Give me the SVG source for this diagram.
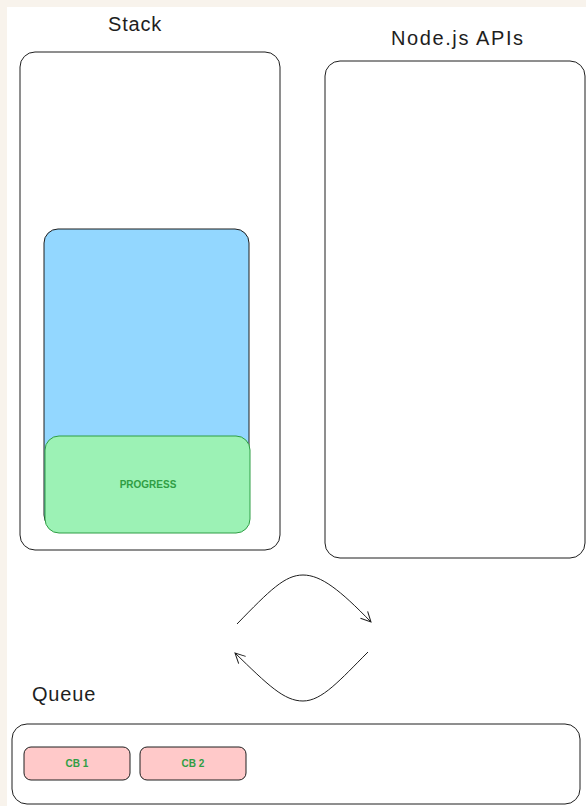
<svg xmlns="http://www.w3.org/2000/svg" width="586" height="806" viewBox="0 0 586 806">
<defs>
<style>
.box{fill:#ffffff;stroke:#1e1e1e;stroke-width:1}
.title{font-family:"Liberation Sans",Arial,sans-serif;font-size:20px;fill:#1e1e1e;letter-spacing:0.8px}
.lbl{font-family:"Liberation Sans",Arial,sans-serif;font-size:10px;fill:#2f9e44;text-anchor:middle;font-weight:bold}
.cb{fill:#ffc9c9;stroke:#1e1e1e;stroke-width:1}
.conn{fill:none;stroke:#1e1e1e;stroke-width:1}
</style>
<marker id="ah" viewBox="0 0 12 12" refX="11" refY="6" markerWidth="12" markerHeight="12" markerUnits="userSpaceOnUse" orient="auto">
<path d="M1,1 L11,6 L1,11" fill="none" stroke="#1e1e1e" stroke-width="1"/>
</marker>
</defs>
<rect x="0" y="0" width="586" height="806" fill="#f8f3ec"/>
<rect x="7" y="7" width="579" height="799" fill="#ffffff"/>
<g id="stack-title"><text class="title" x="108" y="31">Stack</text></g>
<g id="apis-title"><text class="title" x="391" y="45" style="letter-spacing:1.6px">Node.js APIs</text></g>
<g id="stack"><rect class="box" x="20" y="52" width="260" height="498" rx="15"/></g>
<g id="apis"><rect class="box" x="325" y="61" width="260" height="497" rx="15"/></g>
<g id="frame"><rect x="44" y="229" width="205" height="300" rx="14" fill="#93d7ff" stroke="#1e1e1e" stroke-width="1"/></g>
<g id="progress"><rect x="45" y="436" width="205" height="97" rx="14" fill="#9cf2b5" stroke="#2f9e44" stroke-width="1"/><text class="lbl" x="148" y="488">PROGRESS</text></g>
<g id="queue-title"><text class="title" x="32" y="701">Queue</text></g>
<g id="queue"><rect class="box" x="12" y="724" width="568" height="80" rx="15"/></g>
<g id="cb1"><rect class="cb" x="24" y="747" width="106" height="33" rx="7"/><text class="lbl" x="77" y="767">CB 1</text></g>
<g id="cb2"><rect class="cb" x="140" y="747" width="106" height="33" rx="7"/><text class="lbl" x="193" y="767">CB 2</text></g>
<g id="connectors">
<path class="conn" d="M237,624 C270,590 285,575 303,575 C321,575 340,590 371,622" marker-end="url(#ah)"/>
<path class="conn" d="M368,652 C340,680 322,701 303,701 C284,701 268,685 235,653" marker-end="url(#ah)"/>
</g>
</svg>
